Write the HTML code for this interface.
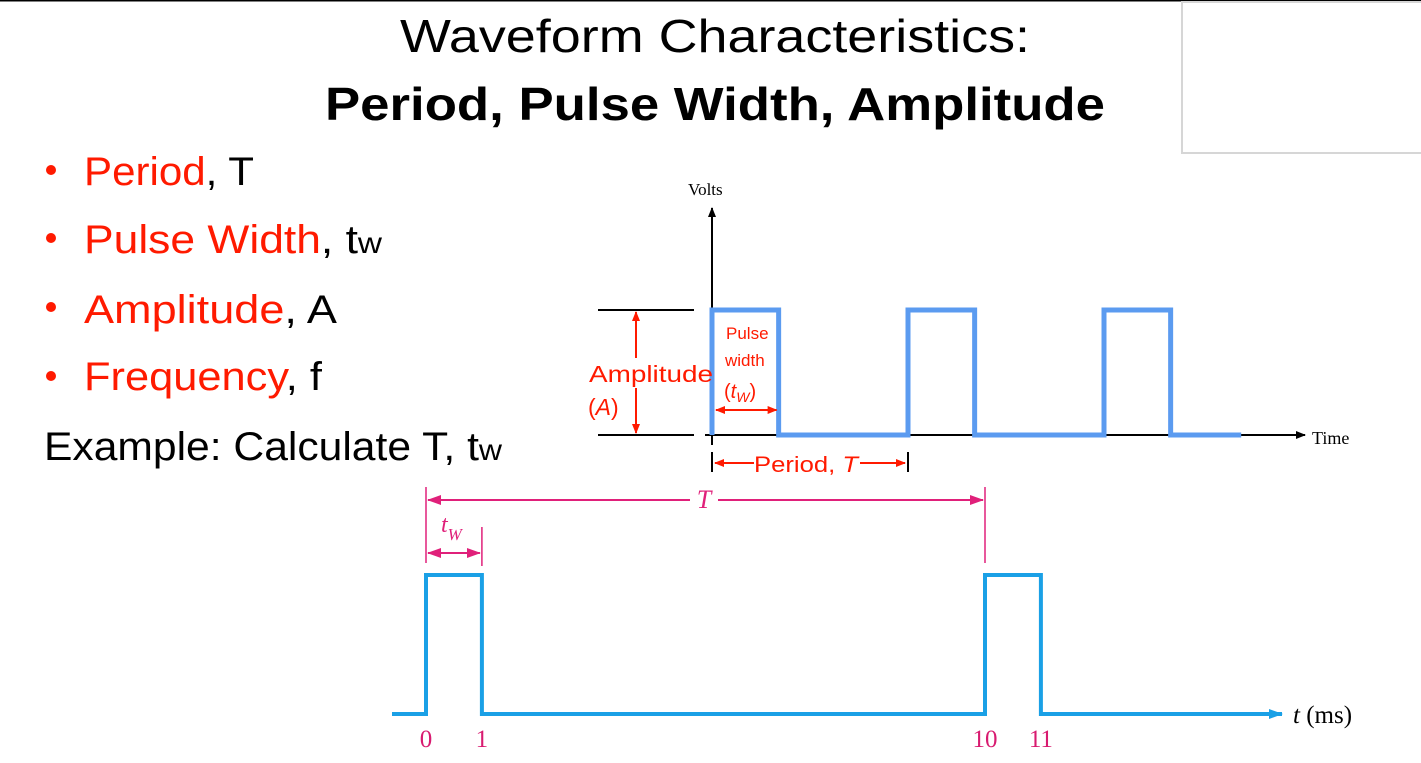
<!DOCTYPE html>
<html><head><meta charset="utf-8"><style>
html,body{margin:0;padding:0;background:#fff;}
svg{display:block;font-family:"Liberation Sans",sans-serif;}
</style></head><body>
<svg id="page" width="1421" height="763" viewBox="0 0 1421 763">
<defs>
<marker id="ab" markerUnits="userSpaceOnUse" markerWidth="10" markerHeight="8" refX="9" refY="4" orient="auto"><path d="M0,0L10,4L0,8z" fill="#000"/></marker>
<marker id="ar" markerUnits="userSpaceOnUse" markerWidth="10" markerHeight="8" refX="9" refY="4" orient="auto-start-reverse"><path d="M0,0L10,4L0,8z" fill="#ff1a00"/></marker>
<marker id="ap" markerUnits="userSpaceOnUse" markerWidth="14" markerHeight="10" refX="13" refY="5" orient="auto-start-reverse"><path d="M0,0L14,5L0,10z" fill="#e0207a"/></marker>
<marker id="ac" markerUnits="userSpaceOnUse" markerWidth="14" markerHeight="10" refX="13" refY="5" orient="auto"><path d="M0,0L14,5L0,10z" fill="#1aa0e6"/></marker>
</defs>
<line x1="0" y1="0.5" x2="1421" y2="0.5" stroke="#000" stroke-width="2"/>
<rect x="1182" y="2" width="250" height="151" fill="#fff" stroke="#d6d6d6" stroke-width="2"/>
<text x="400" y="52" font-size="46" textLength="630" lengthAdjust="spacingAndGlyphs">Waveform Characteristics:</text>
<text x="325" y="120" font-size="46" font-weight="bold" textLength="780" lengthAdjust="spacingAndGlyphs">Period, Pulse Width, Amplitude</text>
<g font-size="40">
<circle cx="51" cy="170" r="5" fill="#ff1a00"/><text x="84" y="185" textLength="170" lengthAdjust="spacingAndGlyphs"><tspan fill="#ff1a00">Period</tspan>, T</text>
<circle cx="51" cy="238" r="5" fill="#ff1a00"/><text x="84" y="253" textLength="298" lengthAdjust="spacingAndGlyphs"><tspan fill="#ff1a00">Pulse Width</tspan>, t<tspan font-size="30">w</tspan></text>
<circle cx="51" cy="307" r="5" fill="#ff1a00"/><text x="84" y="323" textLength="253" lengthAdjust="spacingAndGlyphs"><tspan fill="#ff1a00">Amplitude</tspan>, A</text>
<circle cx="51" cy="376" r="5" fill="#ff1a00"/><text x="84" y="390" textLength="238" lengthAdjust="spacingAndGlyphs"><tspan fill="#ff1a00">Frequency</tspan>, f</text>
<text x="44" y="460" textLength="458" lengthAdjust="spacingAndGlyphs">Example: Calculate T, t<tspan font-size="30">w</tspan></text>
</g>
<g id="top-chart"></g>
<g id="bottom-chart"></g>
</svg>
<script>
// Generic waveform (top diagram)
const topPulseStarts = [0, 1, 2];      // in periods
const topDuty = [0.34];                 // fraction of period high
const topLevels = [0, 1];               // low, high (amplitude units)
// Example waveform (bottom chart)
const exPulseStarts = [0, 10];          // ms
const exPulseWidth = [1];               // ms
const exTickLabels = ["0", "1", "10", "11"];
const exTickValues = [0, 1, 10, 11];
const exPeriod = [10];

const NS = "http://www.w3.org/2000/svg";
function mk(parent, tag, attrs, txt) {
  const e = document.createElementNS(NS, tag);
  for (const k in attrs) e.setAttribute(k, attrs[k]);
  if (txt !== undefined) e.textContent = txt;
  parent.appendChild(e);
  return e;
}
// ---- top chart
const tg = document.getElementById('top-chart');
const tx = p => 712 + p * 196;
const ty = v => 435 - v * 125;
let e;
e = mk(tg, 'line', {x1: 712, y1: 445, x2: 712, y2: 208, stroke: '#000', 'stroke-width': 2, 'marker-end': 'url(#ab)'});


e = mk(tg, 'line', {x1: 705, y1: ty(0), x2: 1305, y2: ty(0), stroke: '#000', 'stroke-width': 2, 'marker-end': 'url(#ab)'});


e = mk(tg, 'text', {x: 688, y: 195, 'font-family': 'Liberation Serif, serif', 'font-size': 17}, 'Volts');


e = mk(tg, 'text', {x: 1312, y: 444, 'font-family': 'Liberation Serif, serif', 'font-size': 18}, 'Time');


let d = `M${tx(0)},${ty(0)}`;
topPulseStarts.forEach(p => {
  d += ` L${tx(p)},${ty(topLevels[0])} L${tx(p)},${ty(topLevels[1])} L${tx(p + topDuty[0])},${ty(topLevels[1])} L${tx(p + topDuty[0])},${ty(topLevels[0])}`;
});
d += ` L${tx(2.7)},${ty(0)}`;
e = mk(tg, 'path', {d: d, fill: 'none', stroke: '#5b9bf0', 'stroke-width': 5});


// amplitude markers
e = mk(tg, 'line', {x1: 598, y1: ty(1), x2: 694, y2: ty(1), stroke: '#000', 'stroke-width': 2});


e = mk(tg, 'line', {x1: 598, y1: ty(0), x2: 694, y2: ty(0), stroke: '#000', 'stroke-width': 2});


e = mk(tg, 'line', {x1: 636, y1: ty(1) + 2, x2: 636, y2: 358, stroke: '#ff1a00', 'stroke-width': 2, 'marker-start': 'url(#ar)'});


e = mk(tg, 'line', {x1: 636, y1: 384, x2: 636, y2: ty(0) - 2, stroke: '#ff1a00', 'stroke-width': 2, 'marker-end': 'url(#ar)'});


e = mk(tg, 'rect', {x: 586, y: 360, width: 122, height: 28, fill: '#fff'});


e = mk(tg, 'text', {x: 589, y: 382, fill: '#ff1a00', 'font-size': 23, textLength: 124, lengthAdjust: 'spacingAndGlyphs'}, 'Amplitude');


e = mk(tg, 'rect', {x: 586, y: 392, width: 36, height: 28, fill: '#fff'});


e = mk(tg, 'text', {x: 588, y: 415, fill: '#ff1a00', 'font-size': 23}, '');
e.innerHTML = '(<tspan font-style="italic">A</tspan>)';


e = mk(tg, 'text', {x: 726, y: 339, fill: '#ff1a00', 'font-size': 17}, 'Pulse');


e = mk(tg, 'text', {x: 725, y: 366, fill: '#ff1a00', 'font-size': 17}, 'width');


e = mk(tg, 'text', {x: 724, y: 398, fill: '#ff1a00', 'font-size': 20}, '');
e.innerHTML = '(<tspan font-style="italic">t</tspan><tspan font-size="14" font-style="italic" dy="4">W</tspan><tspan dy="-4">)</tspan>';


e = mk(tg, 'line', {x1: tx(0) + 4, y1: 410, x2: tx(topDuty[0]) - 2, y2: 410, stroke: '#ff1a00', 'stroke-width': 2, 'marker-start': 'url(#ar)', 'marker-end': 'url(#ar)'});


e = mk(tg, 'line', {x1: tx(0), y1: 452, x2: tx(0), y2: 472, stroke: '#000', 'stroke-width': 2});


e = mk(tg, 'line', {x1: tx(1), y1: 452, x2: tx(1), y2: 472, stroke: '#000', 'stroke-width': 2});


e = mk(tg, 'line', {x1: tx(0) + 3, y1: 463, x2: 754, y2: 463, stroke: '#ff1a00', 'stroke-width': 2, 'marker-start': 'url(#ar)'});


e = mk(tg, 'line', {x1: 860, y1: 463, x2: tx(1) - 3, y2: 463, stroke: '#ff1a00', 'stroke-width': 2, 'marker-end': 'url(#ar)'});


e = mk(tg, 'text', {x: 754, y: 472, fill: '#ff1a00', 'font-size': 22, textLength: 104, lengthAdjust: 'spacingAndGlyphs'}, '');
e.innerHTML = 'Period, <tspan font-style="italic">T</tspan>';



// ---- bottom chart
const bg = document.getElementById('bottom-chart');
const bx = t => 426 + t * 55.9;
const by = v => 714 - v * 139;
let bd = `M392,${by(0)}`;
exPulseStarts.forEach(s => {
  bd += ` L${bx(s)},${by(0)} L${bx(s)},${by(1)} L${bx(s + exPulseWidth[0])},${by(1)} L${bx(s + exPulseWidth[0])},${by(0)}`;
});
bd += ` L1282,${by(0)}`;
e = mk(bg, 'path', {d: bd, fill: 'none', stroke: '#1aa0e6', 'stroke-width': 4, 'marker-end': 'url(#ac)'});


exTickValues.forEach((v, i) => {
  const t = mk(bg, 'text', {x: bx(v), y: 747, fill: '#d81b70', 'font-family': 'Liberation Serif, serif', 'font-size': 25, 'text-anchor': 'middle'}, exTickLabels[i]);
  
  
});
e = mk(bg, 'text', {x: 1293, y: 723, 'font-family': 'Liberation Serif, serif', 'font-size': 25}, '');
e.innerHTML = '<tspan font-style="italic">t</tspan> (ms)';


// T annotation
[0, exPeriod[0]].forEach(v => {
  const l = mk(bg, 'line', {x1: bx(v), y1: 487, x2: bx(v), y2: 563, stroke: '#e0207a', 'stroke-width': 1.5});
  
  
});
e = mk(bg, 'line', {x1: bx(0) + 2, y1: 500, x2: 690, y2: 500, stroke: '#e0207a', 'stroke-width': 2, 'marker-start': 'url(#ap)'});


e = mk(bg, 'line', {x1: 718, y1: 500, x2: bx(exPeriod[0]) - 2, y2: 500, stroke: '#e0207a', 'stroke-width': 2, 'marker-end': 'url(#ap)'});


e = mk(bg, 'text', {x: 704, y: 508, fill: '#e0207a', 'font-family': 'Liberation Serif, serif', 'font-size': 26, 'font-style': 'italic', 'text-anchor': 'middle'}, 'T');


e = mk(bg, 'line', {x1: bx(exPulseWidth[0]), y1: 527, x2: bx(exPulseWidth[0]), y2: 566, stroke: '#e0207a', 'stroke-width': 1.5});


e = mk(bg, 'line', {x1: bx(0) + 2, y1: 553, x2: bx(exPulseWidth[0]) - 2, y2: 553, stroke: '#e0207a', 'stroke-width': 2, 'marker-start': 'url(#ap)', 'marker-end': 'url(#ap)'});


e = mk(bg, 'text', {x: 441, y: 532, fill: '#e0207a', 'font-family': 'Liberation Serif, serif', 'font-size': 24, 'font-style': 'italic'}, '');
e.innerHTML = 't<tspan font-size="17" dy="8">W</tspan>';


</script>
</body></html>
